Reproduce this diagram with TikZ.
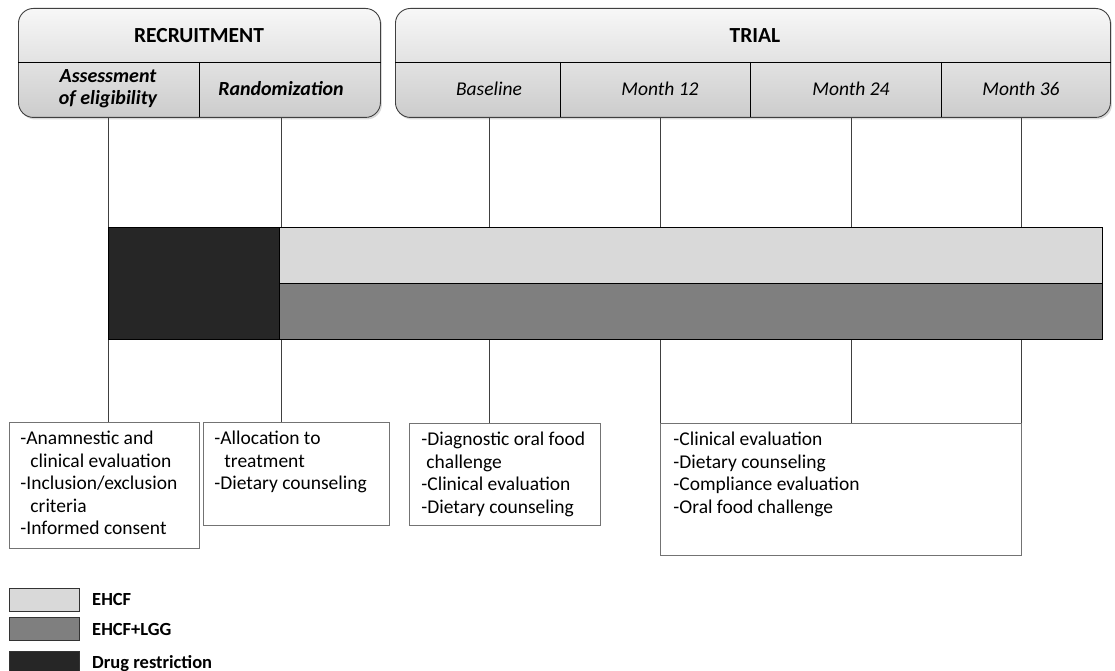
\documentclass[tikz,border=0pt]{standalone}
\usepackage{fontspec}
\setmainfont{Carlito}
\usepackage{tikz}
\usetikzlibrary{positioning,shadows}
\definecolor{lightbar}{HTML}{D9D9D9}
\definecolor{midbar}{HTML}{7F7F7F}
\definecolor{darkbar}{HTML}{262626}

\begin{document}
\begin{tikzpicture}[x=1pt, y=-1pt, line width=0.9pt,
phase/.style={draw=black!75, rounded corners=15pt, anchor=north west, top color=gray!6, bottom color=gray!40,
  drop shadow={opacity=0.3, shadow xshift=1.5pt, shadow yshift=-2pt}},
head/.style={font=\fontsize{21.5}{24}\selectfont\bfseries},
stage/.style={align=center, font=\fontsize{19.5}{22}\selectfont\itshape},
bar/.style={draw=black, anchor=north west, inner sep=0pt},
infobox/.style={draw=black!55, fill=white, anchor=north west, inner sep=0pt},
infotext/.style={anchor=north west, align=left, inner xsep=11pt, inner ysep=9pt},
legbox/.style={draw=black!80, minimum width=70, minimum height=23, inner sep=0pt},
legtext/.style={font=\fontsize{18.5}{22}\selectfont\bfseries}]
\tikzstyle{every node}=[font=\fontsize{19.5}{22.4}\selectfont]
\useasboundingbox (0,0) rectangle (1115,671);
\node[phase, minimum width=362, minimum height=109] (rec) at (18,8) {};
\node[phase, minimum width=715, minimum height=109] (trial) at (395,8) {};
\node[head] (r) at (199,36) {RECRUITMENT};
\node[head] (t) at (755,36) {TRIAL};
\draw (rec.west |- 0,62) -- (rec.east |- 0,62);
\draw (trial.west |- 0,62) -- (trial.east |- 0,62);
\draw (199,62) -- (199,117);
\foreach \x in {560,750,941} \draw (\x,62) -- (\x,117);
\node[stage, font=\fontsize{20}{22}\selectfont\bfseries\itshape] (a1) at (108,89) {Assessment\\of eligibility};
\node[stage, font=\fontsize{20}{22}\selectfont\bfseries\itshape] (a2) at (281,89) {Randomization};
\node[stage] (b0) at (489,89) {Baseline};
\node[stage] (m12) at (660,89) {Month 12};
\node[stage] (m24) at (851,89) {Month 24};
\node[stage] (m36) at (1021,89) {Month 36};
\node[infobox, minimum width=190, minimum height=126,
  label={[infotext]north west:{-Anamnestic and\\\hspace*{10pt}clinical evaluation\\-Inclusion/exclusion\\\hspace*{10pt}criteria\\-Informed consent}}] (o1) at (9,422) {};
\node[infobox, minimum width=186, minimum height=103,
  label={[infotext]north west:{-Allocation to\\\hspace*{10pt}treatment\\-Dietary counseling}}] (o2) at (203,422) {};
\node[infobox, minimum width=191, minimum height=102,
  label={[infotext, inner xsep=12pt]north west:{-Diagnostic oral food\\\hspace*{5pt}challenge\\-Clinical evaluation\\-Dietary counseling}}] (o3) at (409,423) {};
\node[infobox, minimum width=361, minimum height=132,
  label={[infotext, inner xsep=13pt]north west:{-Clinical evaluation\\-Dietary counseling\\-Compliance evaluation\\-Oral food challenge}}] (o4) at (660,423) {};
\draw[black!75] (a1 |- rec.south) -- (a1 |- o1.north);
\draw[black!75] (a2 |- rec.south) -- (a2 |- o2.north);
\draw[black!75] (b0 |- trial.south) -- (b0 |- o3.north);
\draw[black!75] (m12 |- trial.south) -- (m12 |- o4.north);
\draw[black!75] (m24 |- trial.south) -- (m24 |- o4.north);
\draw[black!75] (m36 |- trial.south) -- (m36 |- o4.north);
\node[bar, fill=darkbar, minimum width=171, minimum height=112] (drug) at (108,227) {};
\node[bar, fill=lightbar, minimum width=823, minimum height=56] (ehcf) at (279,227) {};
\node[bar, fill=midbar, minimum width=823, minimum height=56, line width=1.2pt] (lgg) at (279,283) {};
\node[legbox, fill=lightbar] (l1) at (44,599.5) {};
\node[legbox, fill=midbar, below=6pt of l1] (l2) {};
\node[legbox, fill=darkbar, below=10pt of l2] (l3) {};
\node[legtext, right=9pt of l1] (t1) {EHCF};
\node[legtext, right=9pt of l2] (t2) {EHCF+LGG};
\node[legtext, right=9pt of l3] (t3) {Drug restriction};
\end{tikzpicture}
\end{document}
